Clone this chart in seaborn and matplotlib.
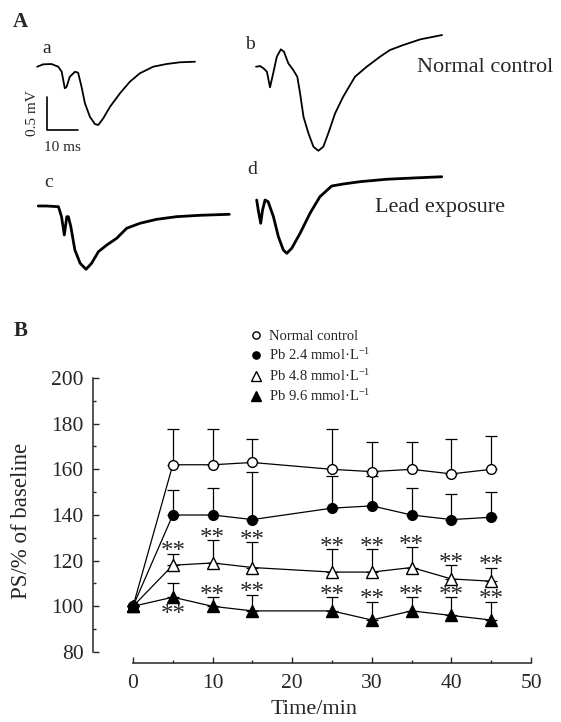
import numpy as np
import pandas as pd
import matplotlib
matplotlib.use('Agg')
import matplotlib.pyplot as plt
import seaborn as sns
from matplotlib.lines import Line2D
from matplotlib.ticker import FixedLocator

# ---- Panel A: field potential traces (ms, mV relative to trace start) ----
t_a = [0, 1.9, 4.6, 6.8, 7.9, 8.9, 9.5, 10.5, 12.2, 13.2, 14.3, 15.4, 17.0, 18.6, 19.7,
       21.3, 23.5, 26.7, 29.9, 33.1, 37.4, 41.7, 46.0, 50.9]
v_a = [0, 0.036, 0.041, 0, -0.076, -0.327, -0.303, -0.152, -0.076, -0.091, -0.303, -0.555,
       -0.758, -0.868, -0.883, -0.782, -0.606, -0.403, -0.227, -0.10, 0, 0.041, 0.067, 0.076]

t_b = [0, 1.3, 2.4, 3.5, 4.5, 5.4, 6.7, 8.0, 9.0, 10.4, 12.0, 13.3, 14.2, 15.3, 16.9, 18.5,
       20.1, 21.7, 23.3, 25.5, 28.1, 31.9, 35.7, 40.0, 43.2, 47.5, 53.0, 60.0]
v_b = [0, 0.01, -0.024, -0.076, -0.312, -0.126, 0.152, 0.264, 0.227, 0.052, -0.05, -0.152,
       -0.403, -0.758, -1.009, -1.212, -1.273, -1.212, -1.009, -0.706, -0.455, -0.152, 0,
       0.152, 0.253, 0.329, 0.415, 0.48]

t_c = [0, 2.7, 6.5, 7.5, 8.4, 9.2, 9.7, 10.5, 11.8, 13.5, 15.4, 17.2, 19.4, 22.1, 25.3,
       28.5, 32.8, 38.2, 44.6, 52.2, 61.6]
v_c = [0, 0, -0.011, -0.162, -0.439, -0.162, -0.162, -0.314, -0.667, -0.868, -0.959, -0.868,
       -0.692, -0.591, -0.489, -0.338, -0.262, -0.202, -0.162, -0.141, -0.126]

t_d = [0, 0.5, 1.3, 1.9, 2.7, 3.7, 5.4, 7.0, 8.6, 9.7, 11.3, 14.0, 17.2, 20.4, 24.2, 27.9,
       33.3, 41.9, 50.5, 59.7]
v_d = [0, -0.152, -0.353, -0.152, 0, -0.026, -0.253, -0.556, -0.758, -0.808, -0.732, -0.505,
       -0.202, 0.05, 0.212, 0.242, 0.277, 0.314, 0.333, 0.352]

# ---- Panel B: PS amplitude (% of baseline) ----
time_min = [0, 5, 10, 15, 25, 30, 35, 40, 45]
groups = ['Normal control', 'Pb 2.4 mmol·L$^{-1}$', 'Pb 4.8 mmol·L$^{-1}$', 'Pb 9.6 mmol·L$^{-1}$']
ps_ctrl = [100, 162, 162, 163, 160, 159, 160, 158, 160]
sd_ctrl = [0, 15.5, 15.5, 10.5, 17.5, 13, 12, 15.5, 14.5]
ps_pb24 = [100, 140, 140, 138, 143, 144, 140, 138, 139]
sd_pb24 = [0, 11, 12, 21, 14, 13, 12, 11, 11]
ps_pb48 = [100, 118, 119, 117, 115, 115, 117, 112, 111]
sd_pb48 = [0, 5, 10, 11, 10, 10, 9, 6, 6]
ps_pb96 = [100, 104, 100, 98, 98, 94, 98, 96, 94]
sd_pb96 = [0, 6, 4, 7, 6, 8, 6, 8, 8]
star_pb48 = [False, True, True, True, True, True, True, True, True]
star_pb96 = [False, True, True, True, True, True, True, True, True]

sns.set_style('ticks')
plt.rcParams['font.family'] = ['Liberation Serif', 'DejaVu Serif']
plt.rcParams['mathtext.fontset'] = 'custom'
plt.rcParams['mathtext.rm'] = 'Liberation Serif'
plt.rcParams['mathtext.it'] = 'Liberation Serif:italic'

fig = plt.figure(figsize=(5.61, 7.22), dpi=100)

# panel A: axes in ms / mV, 3.1 px per ms, 66 px per mV
ax_a = fig.add_axes([0, 1 - 300 / 722, 1, 300 / 722])
ax_a.set_xlim(0, 561 / 3.1)
ax_a.set_ylim(-300 / 66, 0)
ax_a.axis('off')

traces = [(t_a, v_a, 12.0, -1.011, 1.3), (t_b, v_b, 82.6, -1.011, 1.3),
          (t_c, v_c, 12.35, -3.121, 2.0), (t_d, v_d, 82.8, -3.03, 2.0)]
for t, v, t0, v0, lw in traces:
    sns.lineplot(x=np.array(t) + t0, y=np.array(v) + v0, ax=ax_a, color='black',
                 lw=lw, estimator=None, sort=False)

# scale bar 10 ms / 0.5 mV
ax_a.plot([15.2, 15.2, 25.2], [-1.47, -1.97, -1.97], color='black', lw=1.2)
ax_a.text(10.6, -1.72, '0.5 mV', rotation=90, ha='center', va='center', fontsize=11)
ax_a.text(20.2, -2.24, '10 ms', ha='center', va='center', fontsize=11)

for lab, x, y in [('a', 15.2, -0.74), ('b', 80.6, -0.67), ('c', 15.8, -2.76), ('d', 81.5, -2.57)]:
    ax_a.text(x, y, lab, ha='center', va='center', fontsize=14)
ax_a.text(134.4, -1.03, 'Normal control', ha='left', va='center', fontsize=16)
ax_a.text(121.0, -3.14, 'Lead exposure', ha='left', va='center', fontsize=16)
fig.text(20 / 561, 1 - 22 / 722, 'A', fontsize=15, fontweight='bold', ha='center', va='center')

# panel B: x 0..50 -> 133..531 px, y 80..200 -> 652..378 px
ax = fig.add_axes([93.2 / 561, 1 - 663.3 / 722, (535 - 93.2) / 561, (663.3 - 378) / 722])
series = [(ps_ctrl, sd_ctrl, 'o', 'white', 7.0),
          (ps_pb24, sd_pb24, 'o', 'black', 7.0),
          (ps_pb48, sd_pb48, '^', 'white', 8.5),
          (ps_pb96, sd_pb96, '^', 'black', 8.5)]
for ps, sd, mk, fc, ms in series:
    ax.errorbar(time_min, ps, yerr=[np.zeros(len(sd)), sd], fmt='none', ecolor='black',
                elinewidth=0.9, capsize=4.5, capthick=0.9, zorder=2)
    sns.lineplot(x=time_min, y=ps, ax=ax, color='black', lw=0.9, marker=mk,
                 markersize=ms, markerfacecolor=fc, markeredgecolor='black',
                 markeredgewidth=1.0, estimator=None, zorder=3)

for t, ps, sd, s in zip(time_min, ps_pb48, sd_pb48, star_pb48):
    if s:
        ax.text(t, ps + sd + 3 - 5.0, '**', ha='center', va='baseline', fontsize=18)
for t, ps, sd, s in zip(time_min, ps_pb96, sd_pb96, star_pb96):
    if s:
        y = ps + sd + 3 if t != 5 else ps - 5.3
        ax.text(t, y - 5.0, '**', ha='center', va='baseline', fontsize=18)

ax.set_xlim(-5, 50.5)
ax.set_ylim(75.05, 200)
ax.set_xticks([0, 10, 20, 30, 40, 50])
ax.set_yticks([80, 100, 120, 140, 160, 180, 200])
ax.xaxis.set_minor_locator(FixedLocator([5, 15, 25, 35, 45]))
ax.yaxis.set_minor_locator(FixedLocator([90, 110, 130, 150, 170, 190]))
ax.tick_params(which='both', direction='in', width=1.0, labelsize=15.5)
ax.tick_params(which='major', length=4.5)
ax.tick_params(which='minor', length=2.5)
ax.tick_params(axis='x', pad=8)
ax.tick_params(axis='y', pad=7)
sns.despine(ax=ax)
ax.spines['left'].set_bounds(80, 200)
ax.spines['bottom'].set_bounds(0, 50)
for sp in ['left', 'bottom']:
    ax.spines[sp].set_linewidth(1.1)
ax.set_xlabel('Time/min', fontsize=16, labelpad=5)
ax.set_ylabel('PS/% of baseline', fontsize=16.5, labelpad=14)

handles = [Line2D([], [], ls='none', marker=mk, markersize=ms - 1.8, markerfacecolor=fc,
                  markeredgecolor='black', markeredgewidth=1.0)
           for _, _, mk, fc, ms in series]
fig.legend(handles, groups, loc='upper left', bbox_to_anchor=(252 / 561, 1 - 330 / 722),
           bbox_transform=fig.transFigure, frameon=False, fontsize=10.5, handlelength=0.5,
           handletextpad=0.65, labelspacing=0.3, borderpad=0, borderaxespad=0)
fig.text(21 / 561, 1 - 331 / 722, 'B', fontsize=15, fontweight='bold', ha='center', va='center')

fig.savefig('out.png', dpi=100)
